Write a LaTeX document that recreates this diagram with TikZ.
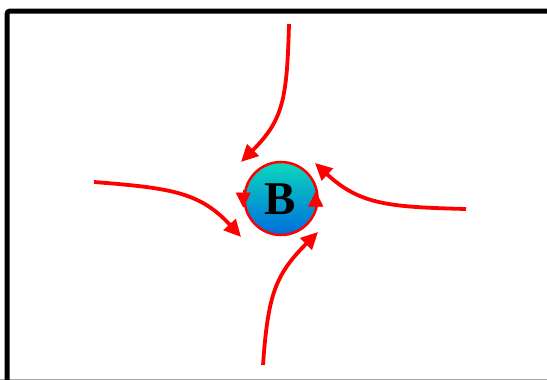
\documentclass[tikz,border=0pt]{standalone}
\usepackage{fontspec}
\setmainfont{Liberation Serif}
\usetikzlibrary{arrows.meta,calc}
\definecolor{topc}{RGB}{10,218,188}
\definecolor{botc}{RGB}{0,108,222}
\tikzset{
  flow/.style={draw=red, line width=3.8pt, -{Triangle[length=17pt,width=16pt]}},
  spin/.style={draw=red, line width=0.5pt, -{Triangle[length=15pt,width=15pt]}},
}
\begin{document}
\begin{tikzpicture}[x=1pt,y=-1pt]
\useasboundingbox (0,0) rectangle (547,380);
\begin{scope}
\clip (0,0) rectangle (547,380);
\draw[gray!70, line width=0.8pt] (0,379.5) -- (547,379.5);
\draw[black, line width=5pt, rounded corners=3pt] (7,400) -- (7,11) -- (560,11);
\end{scope}
\node[circle, minimum size=73pt, inner sep=0pt, draw=red, line width=2.5pt,
      top color=topc, bottom color=botc] (b) at (281,198.5) {};
\node[font=\fontsize{47}{47}\selectfont\bfseries] (bl) at (280,199) {B};
\coordinate (s1) at (289,24);
\coordinate (t1) at (241,162);
\coordinate (s2) at (94,182);
\coordinate (t2) at (241,237);
\coordinate (s3) at (466,209);
\coordinate (t3) at (315,163);
\coordinate (s4) at (263,365);
\coordinate (t4) at (318,232);
\draw[flow] (s1) .. controls (287,100) and (283,120) .. (t1);
\draw[flow] (s2) .. controls (170,188) and (200,192) .. (t2);
\draw[flow] (s3) .. controls (390,207) and (360,205) .. (t3);
\draw[flow] (s4) .. controls (268,295) and (275,275) .. (t4);
\draw[spin] ($(b.west)+(0,-9)$) -- ($(b.west)+(0,9)$);
\draw[spin] ($(b.east)+(-3,8)$) -- ($(b.east)+(-3,-7)$);
\end{tikzpicture}
\end{document}
